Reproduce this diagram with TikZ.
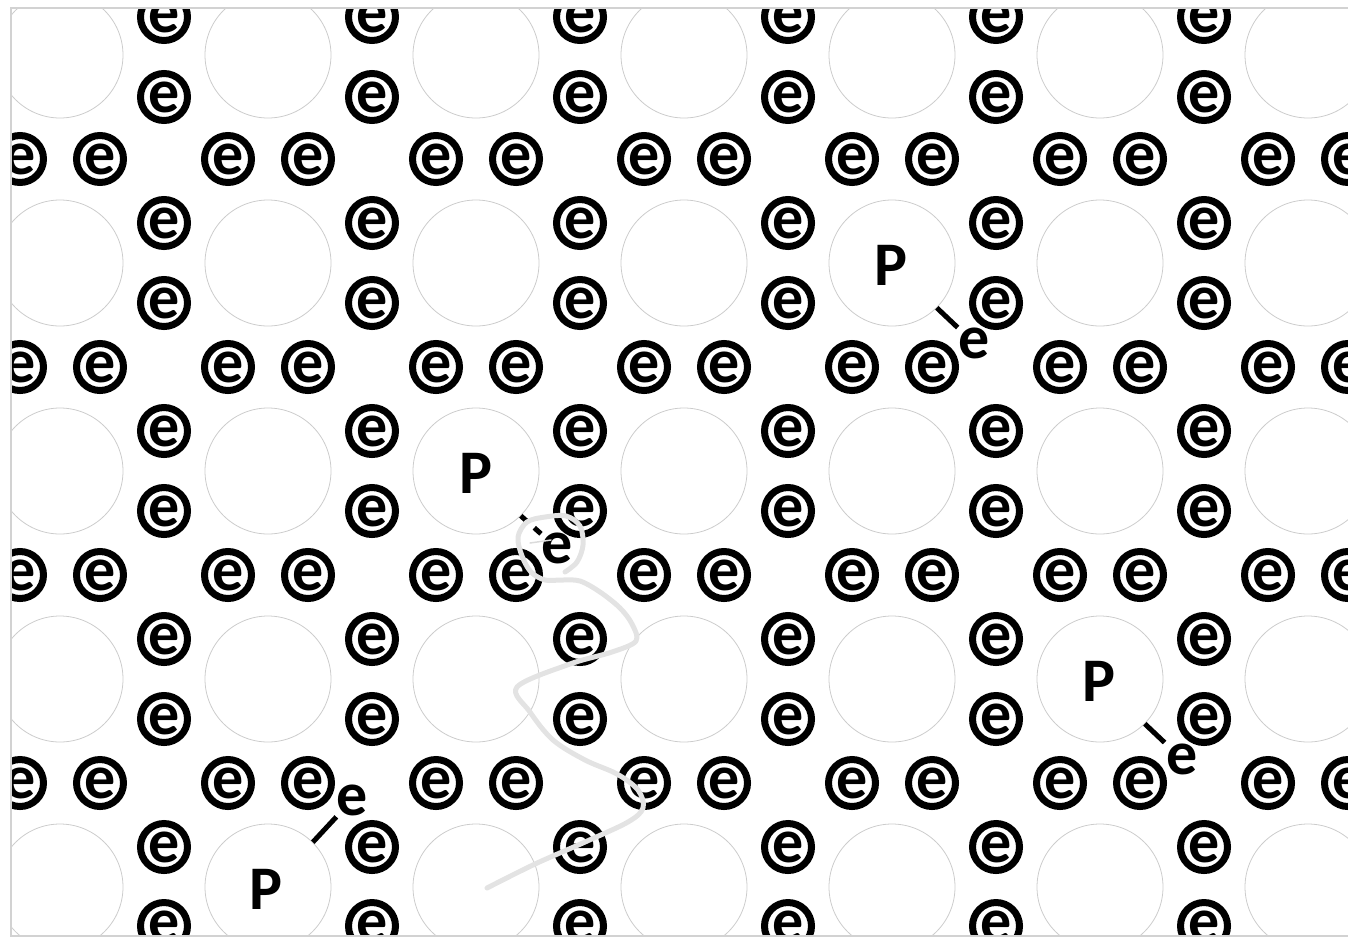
\documentclass[tikz,border=0pt]{standalone}
\usepackage{fontspec}
\setmainfont{Carlito}
\tikzset{
  ion/.style={circle, draw=gray!40, line width=0.8pt, minimum size=126pt, inner sep=0pt},
  elec/.style={circle, draw=black, line width=7pt, minimum size=47pt, inner sep=0pt,
    font=\bfseries\fontsize{62}{62}\selectfont, text=black},
  freee/.style={inner sep=0pt, font=\bfseries\fontsize{62}{62}\selectfont},
  plabel/.style={inner sep=0pt, font=\bfseries\fontsize{62}{62}\selectfont},
  bond/.style={draw=black, line width=5pt},
  track/.style={draw=gray!22, line width=5pt, line join=round, line cap=round},
  frameline/.style={draw=gray!35, line width=1.2pt}
}
\begin{document}
\begin{tikzpicture}[x=1pt,y=-1pt]
\useasboundingbox (0,0) rectangle (1348,938);
\begin{scope}
\clip (11,8) rectangle (1348,936);
% ions
\foreach \x [count=\i] in {60,268,476,684,892,1100,1308}
  \foreach \y [count=\j] in {55,263,471,679,887}
    \node[ion] (ion-\i-\j) at (\x,\y) {};
% electrons in columns
\foreach \cx [count=\i] in {164,372,580,788,996,1204}
  \foreach \cy [count=\j] in {17,97,223,303,431,511,639,719,847,926}
    \node[elec] (ec-\i-\j) at (\cx,\cy) {e};
% electrons in rows
\foreach \ry [count=\j] in {159,367,575,783}
  \foreach \rx [count=\i] in {20,100,228,308,436,516,644,724,852,932,1060,1140,1268,1348}
    \node[elec] (er-\i-\j) at (\rx,\ry) {e};
% P labels
\node[plabel] (p1) at (891,265) {P};
\node[plabel] (p2) at (476,473) {P};
\node[plabel] (p3) at (1099,681) {P};
\node[plabel] (p4) at (266,889) {P};
% free electrons
\node[freee] (f1) at (974,343) {e};
\node[freee] (f2) at (557,548) {e};
\node[freee] (f3) at (1182,759) {e};
\node[freee] (f4) at (352,800) {e};
% bonds
\draw[bond, shorten >=22.5pt] (ion-5-2.-45) -- (f1.center);
\draw[bond, dash pattern=on 9pt off 9pt, shorten >=19pt] (ion-3-3.-45) -- (f2.center);
\draw[bond, shorten >=24pt] (ion-6-4.-45) -- (f3.center);
\draw[bond, shorten >=23pt] (ion-2-5.45) -- (f4.center);
% electron track
\coordinate (t0) at (565,572);
\coordinate (t1) at (487,888);
\draw[track] (t0) plot[smooth, tension=0.55] coordinates {
  (565,572) (577,562) (583,545) (580,526) (566,516) (545,517) (527,522) (518,537)
  (522,556) (531,572) (545,580) (562,580) (580,581) (600,592) (620,608) (632,624)
  (636,641) (612,652) (570,664) (517,687) (530,712) (553,740) (585,760) (617,774)
  (638,790) (643,808) (628,822) (585,842) (535,864) (487,888)};
\coordinate (s0) at (530,543);
\coordinate (s1) at (551,540);
\draw[draw=gray!28, line width=1.5pt, line cap=round] (s0) -- (s1);
\end{scope}
% frame
\coordinate (fa) at (1348,8);
\coordinate (fb) at (11,8);
\coordinate (fc) at (11,936);
\coordinate (fd) at (1348,936);
\draw[frameline] (fa) -- (fb) -- (fc) -- (fd);
\end{tikzpicture}
\end{document}
